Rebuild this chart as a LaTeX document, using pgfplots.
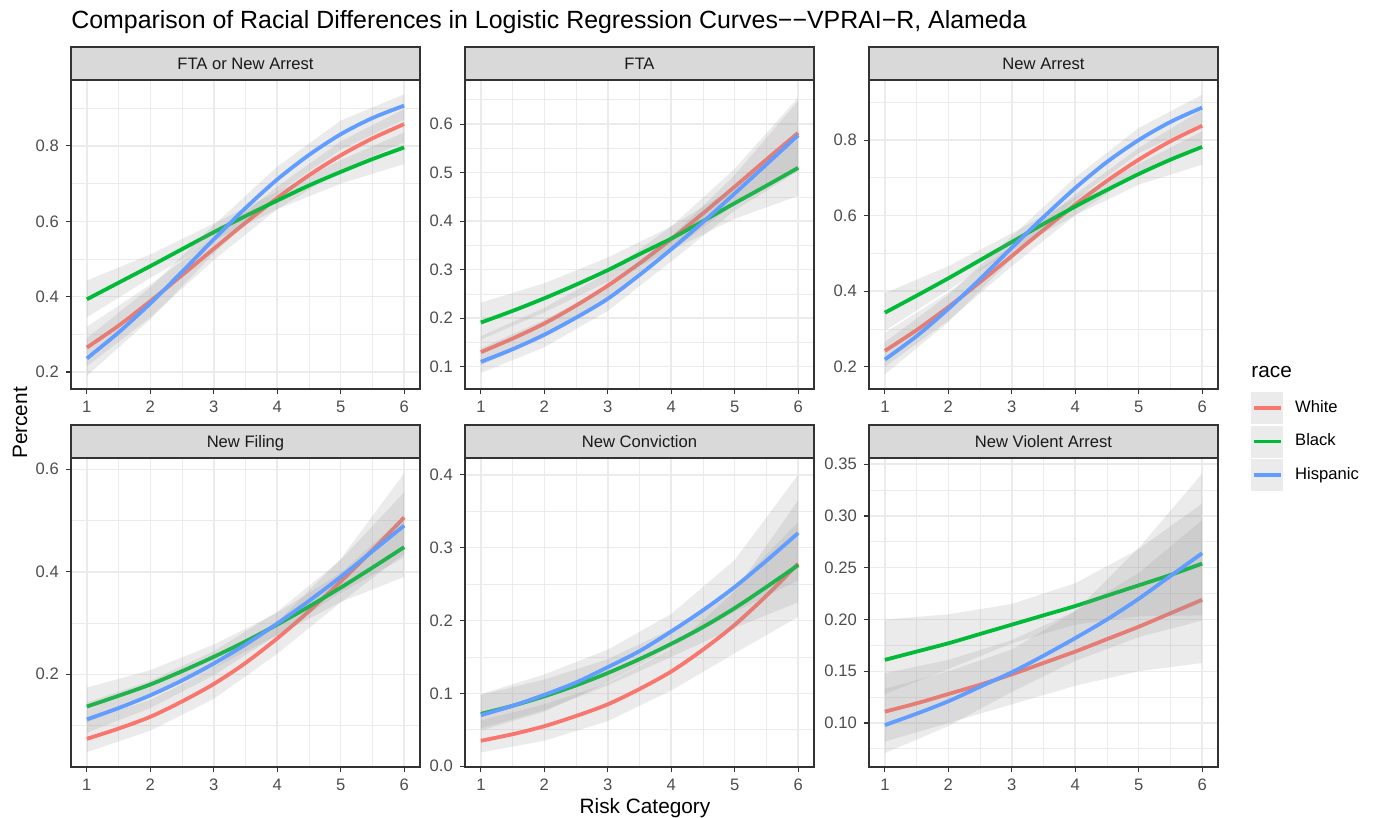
\documentclass[border=0pt]{standalone}
\usepackage{fontspec}
\setmainfont{Liberation Sans}
\usepackage{pgfplots}
\pgfplotsset{compat=1.18}
\usepackage{pgfplotstable}
\definecolor{cW}{HTML}{F8766D}
\definecolor{cB}{HTML}{00BA38}
\definecolor{cH}{HTML}{619CFF}
\definecolor{grey92}{HTML}{EBEBEB}
\definecolor{grey85}{HTML}{D9D9D9}
\definecolor{grey20}{HTML}{333333}
\definecolor{grey30}{HTML}{4D4D4D}
\definecolor{grey10}{HTML}{1A1A1A}

% fitted curves: x, White, Black, Hispanic
\pgfplotstableread{
x w b h
1 0.265 0.393 0.236
1.5 0.323 0.437 0.305
2 0.388 0.481 0.382
2.5 0.457 0.526 0.466
3 0.527 0.571 0.552
3.5 0.596 0.614 0.635
4 0.662 0.655 0.711
4.5 0.722 0.695 0.776
5 0.775 0.731 0.831
5.5 0.820 0.765 0.874
6 0.858 0.796 0.907
}\lA
% confidence bands: upper bound x=1..6, then lower bound x=6..1
\pgfplotstableread{
x w b h
1 0.320 0.443 0.290
2 0.432 0.512 0.425
3 0.557 0.594 0.590
4 0.692 0.678 0.745
5 0.812 0.762 0.867
6 0.898 0.836 0.937
6 0.810 0.752 0.870
5 0.735 0.700 0.790
4 0.632 0.632 0.675
3 0.497 0.548 0.515
2 0.345 0.450 0.340
1 0.215 0.345 0.190
}\rA
\pgfplotstableread{
x w b h
1 0.130 0.191 0.110
1.5 0.158 0.215 0.136
2 0.189 0.241 0.166
2.5 0.226 0.269 0.201
3 0.267 0.299 0.240
3.5 0.313 0.332 0.289
4 0.363 0.364 0.342
4.5 0.416 0.400 0.398
5 0.471 0.437 0.457
5.5 0.527 0.473 0.517
6 0.582 0.510 0.577
}\lB
\pgfplotstableread{
x w b h
1 0.163 0.232 0.138
2 0.221 0.272 0.196
3 0.294 0.325 0.267
4 0.389 0.389 0.368
5 0.508 0.470 0.495
6 0.655 0.568 0.648
6 0.505 0.452 0.503
5 0.435 0.405 0.422
4 0.338 0.340 0.317
3 0.240 0.275 0.215
2 0.160 0.212 0.140
1 0.103 0.156 0.087
}\rB
\pgfplotstableread{
x w b h
1 0.242 0.343 0.219
1.5 0.297 0.388 0.281
2 0.358 0.434 0.353
2.5 0.424 0.482 0.432
3 0.493 0.530 0.515
3.5 0.562 0.578 0.596
4 0.629 0.624 0.673
4.5 0.692 0.668 0.742
5 0.748 0.710 0.800
5.5 0.797 0.748 0.848
6 0.838 0.782 0.886
}\lC
\pgfplotstableread{
x w b h
1 0.290 0.395 0.265
2 0.396 0.466 0.390
3 0.520 0.553 0.545
4 0.656 0.647 0.701
5 0.779 0.737 0.832
6 0.880 0.823 0.920
6 0.790 0.735 0.845
5 0.715 0.682 0.765
4 0.601 0.601 0.643
3 0.466 0.507 0.485
2 0.322 0.403 0.318
1 0.200 0.295 0.180
}\rC
\pgfplotstableread{
x w b h
1 0.074 0.137 0.112
1.5 0.094 0.158 0.134
2 0.117 0.180 0.159
2.5 0.147 0.206 0.188
3 0.181 0.234 0.221
3.5 0.222 0.264 0.258
4 0.270 0.297 0.299
4.5 0.323 0.332 0.343
5 0.381 0.369 0.390
5.5 0.442 0.408 0.440
6 0.506 0.448 0.490
}\lD
\pgfplotstableread{
x w b h
1 0.110 0.174 0.145
2 0.150 0.208 0.187
3 0.212 0.258 0.245
4 0.302 0.320 0.322
5 0.425 0.398 0.423
6 0.592 0.508 0.555
6 0.435 0.390 0.428
5 0.340 0.341 0.359
4 0.240 0.276 0.277
3 0.152 0.212 0.198
2 0.090 0.155 0.134
1 0.048 0.106 0.086
}\rD
\pgfplotstableread{
x w b h
1 0.035 0.072 0.070
1.5 0.044 0.083 0.083
2 0.055 0.096 0.098
2.5 0.069 0.111 0.115
3 0.085 0.128 0.136
3.5 0.106 0.147 0.158
4 0.130 0.168 0.185
4.5 0.160 0.191 0.214
5 0.194 0.217 0.246
5.5 0.234 0.246 0.282
6 0.278 0.276 0.320
}\lE
\pgfplotstableread{
x w b h
1 0.063 0.098 0.099
2 0.085 0.119 0.126
3 0.114 0.147 0.160
4 0.161 0.188 0.209
5 0.240 0.246 0.283
6 0.365 0.335 0.400
6 0.205 0.225 0.255
5 0.155 0.190 0.212
4 0.104 0.150 0.163
3 0.062 0.111 0.115
2 0.035 0.077 0.075
1 0.019 0.052 0.049
}\rE
\pgfplotstableread{
x w b h
1 0.111 0.161 0.098
1.5 0.119 0.169 0.109
2 0.128 0.177 0.121
2.5 0.137 0.186 0.135
3 0.147 0.195 0.149
3.5 0.158 0.204 0.165
4 0.169 0.213 0.182
4.5 0.181 0.223 0.200
5 0.193 0.233 0.220
5.5 0.206 0.243 0.242
6 0.219 0.254 0.264
}\lF
\pgfplotstableread{
x w b h
1 0.148 0.200 0.133
2 0.161 0.205 0.150
3 0.180 0.215 0.171
4 0.208 0.235 0.208
5 0.245 0.268 0.269
6 0.296 0.312 0.341
6 0.158 0.204 0.199
5 0.150 0.203 0.183
4 0.136 0.195 0.160
3 0.118 0.177 0.130
2 0.100 0.152 0.097
1 0.082 0.128 0.071
}\rF

\newcommand{\curves}[2]{%
 \addplot[rib,forget plot] table[x=x,y=w]{#2};
 \addplot[cW,line width=1.9pt,smooth] table[x=x,y=w]{#1};
 \addplot[rib,forget plot] table[x=x,y=b]{#2};
 \addplot[cB,line width=1.9pt,smooth] table[x=x,y=b]{#1};
 \addplot[rib,forget plot] table[x=x,y=h]{#2};
 \addplot[cH,line width=1.9pt,smooth] table[x=x,y=h]{#1};
}

\pgfplotsset{
 rib/.style={fill=black!40,fill opacity=0.2,draw=none,mark=none},
 panel/.style={
  scale only axis, width=174.5pt, height=154.5pt,
  anchor=north west,
  xmin=0.75,xmax=6.25,
  xtick={1,2,3,4,5,6}, xticklabels={1,2,3,4,5,6},
  minor xtick={1.5,2.5,3.5,4.5,5.5},
  grid=both,
  major grid style={draw=grey92,line width=0.75pt},
  minor grid style={draw=grey92,line width=0.4pt},
  axis line style={draw=grey20,line width=0.55pt},
  tick align=outside, tick pos=left,
  major tick length=2.6pt, minor tick length=0pt,
  major tick style={draw=grey20,line width=0.55pt},
  ticklabel style={font=\fontsize{8.3}{9}\selectfont, text=grey30},
 },
}
\newcommand{\facetstrip}[2]{%
 \draw[fill=grey85,draw=grey20,line width=0.55pt] (#1.north west) rectangle ([yshift=16.5pt]#1.north east);
 \node[font=\fontsize{8.3}{9}\selectfont,text=grey10,text height=5.94pt,text depth=0pt,inner sep=0pt] at ([yshift=8.25pt]#1.north) {#2};
}

\begin{document}
\begin{tikzpicture}
\path[use as bounding box] (0,0) rectangle (688pt,-409pt);

\begin{axis}[panel, name=pA, at={(35.5pt,-40pt)},
  ymin=0.155, ymax=0.975,
  ytick={0.2,0.4,0.6,0.8}, yticklabels={0.2,0.4,0.6,0.8},
  minor ytick={0.3,0.5,0.7,0.9}]
 \curves{\lA}{\rA}
\end{axis}
\facetstrip{pA}{FTA or New Arrest}

\begin{axis}[panel, name=pB, at={(232.5pt,-40pt)},
  ymin=0.054, ymax=0.691,
  ytick={0.1,0.2,0.3,0.4,0.5,0.6}, yticklabels={0.1,0.2,0.3,0.4,0.5,0.6},
  minor ytick={0.15,0.25,0.35,0.45,0.55,0.65}]
 \curves{\lB}{\rB}
\end{axis}
\facetstrip{pB}{FTA}

\begin{axis}[panel, name=pC, at={(434.5pt,-40pt)},
  ymin=0.141, ymax=0.959,
  ytick={0.2,0.4,0.6,0.8}, yticklabels={0.2,0.4,0.6,0.8},
  minor ytick={0.3,0.5,0.7,0.9}]
 \curves{\lC}{\rC}
\end{axis}
\facetstrip{pC}{New Arrest}

\begin{axis}[panel, name=pD, at={(35.5pt,-229pt)},
  ymin=0.019, ymax=0.622,
  ytick={0.2,0.4,0.6}, yticklabels={0.2,0.4,0.6},
  minor ytick={0.1,0.3,0.5}]
 \curves{\lD}{\rD}
\end{axis}
\facetstrip{pD}{New Filing}

\begin{axis}[panel, name=pE, at={(232.5pt,-229pt)},
  ymin=-0.001, ymax=0.423,
  ytick={0,0.1,0.2,0.3,0.4}, yticklabels={0.0,0.1,0.2,0.3,0.4},
  minor ytick={0.05,0.15,0.25,0.35}]
 \curves{\lE}{\rE}
\end{axis}
\facetstrip{pE}{New Conviction}

\begin{axis}[panel, name=pF, at={(434.5pt,-229pt)},
  ymin=0.0575, ymax=0.356,
  ytick={0.10,0.15,0.20,0.25,0.30,0.35}, yticklabels={0.10,0.15,0.20,0.25,0.30,0.35},
  minor ytick={0.075,0.125,0.175,0.225,0.275,0.325},
  legend style={at={(1.0917,1.219)}, anchor=north west, draw=none, fill=none,
    inner sep=0pt, row sep=0pt, column sep=5.5pt,
    font=\fontsize{8.3}{9}\selectfont, nodes={inner sep=0pt}},
  legend cell align=left,
  legend image code/.code={%
    \filldraw[fill=black!8,draw=white,line width=0.4pt] (0pt,-8.25pt) rectangle (16.5pt,8.25pt);
    \draw[#1] (1.5pt,0pt) -- (15pt,0pt);}]
 \curves{\lF}{\rF}
 \legend{White,Black,Hispanic}
\end{axis}
\facetstrip{pF}{New Violent Arrest}

\node[anchor=base west,font=\fontsize{12.45}{14}\selectfont,inner sep=0pt] at (35.5pt,-14.5pt) {Comparison of Racial Differences in Logistic Regression Curves−−VPRAI−R, Alameda};
\node[rotate=90,anchor=base,font=\fontsize{10.4}{12}\selectfont,inner sep=0pt] at (13.5pt,-211.5pt) {Percent};
\node[anchor=base,font=\fontsize{10.4}{12}\selectfont,inner sep=0pt] at (322.5pt,-406.5pt) {Risk Category};
\node[anchor=base west,font=\fontsize{10.4}{12}\selectfont,inner sep=0pt] at (625.5pt,-188.5pt) {race};
\end{tikzpicture}
\end{document}
